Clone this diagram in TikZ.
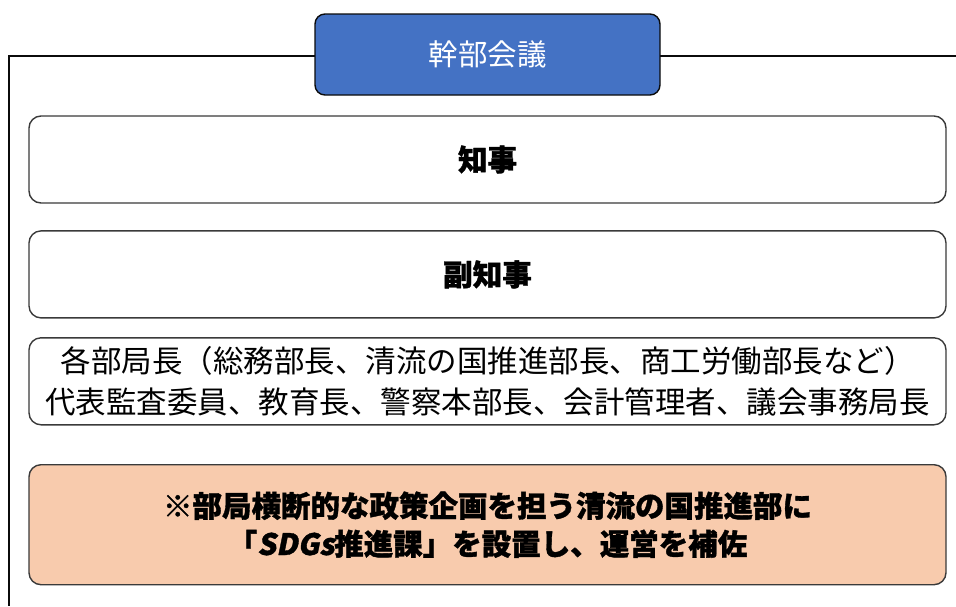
\documentclass[tikz,border=0pt]{standalone}
\usepackage{fontspec}
\usepackage{xcolor}
\usetikzlibrary{positioning}
\newfontfamily\jp{Noto Sans CJK JP}[BoldFeatures={FakeBold=1.2}]
\newfontfamily\jpslant{Noto Sans CJK JP}[FakeSlant=0.2,BoldFeatures={FakeBold=1.2}]
\definecolor{hq}{HTML}{4472C4}
\definecolor{sdg}{HTML}{F8CBAD}
\definecolor{ink}{HTML}{0B0B0B}
\definecolor{ink2}{HTML}{3A3A3A}
\tikzset{
  memb/.style={draw=ink2, line width=1.4pt, fill=#1, rounded corners=12pt, align=center,
    minimum width=917pt, font=\jp\fontsize{30.5}{41}\selectfont, inner sep=0pt},
  memb/.default=white,
  frm/.style={draw=ink, line width=1.6pt},
}
\begin{document}
\begin{tikzpicture}[x=1pt, y=-1pt, node distance=26.5pt]
  \useasboundingbox (0,0) rectangle (956,606);
  % outer frame (runs off to the right and bottom)
  \coordinate (fr) at (956,56);
  \coordinate (fb) at (9,606);
  \draw[frm] (fr) -| (fb);
  \node[draw=ink, line width=1.4pt, fill=hq, rounded corners=10pt, minimum width=345pt, minimum height=81pt,
    text=white, font=\jp\fontsize{29.5}{34}\selectfont] (kanbu) at (487.5,54.5) {幹部会議};
  \node[memb, minimum height=87pt, font=\jp\bfseries\fontsize{29.5}{34}\selectfont] (chiji) at (487.5,159.5) {知事};
  \node[memb, minimum height=87pt, font=\jp\bfseries\fontsize{29.5}{34}\selectfont, below=of chiji] (fuku) {副知事};
  \node[memb, minimum height=87pt, below=18.5pt of fuku] (bucho) {各部局長（総務部長、清流の国推進部長、商工労働部長など）\\代表監査委員、教育長、警察本部長、会計管理者、議会事務局長};
  \node[memb=sdg, minimum height=120pt, font=\jp\bfseries\fontsize{29.5}{38}\selectfont, below=38.5pt of bucho] (sdgs)
    {※部局横断的な政策企画を担う清流の国推進部に\\「{\jpslant\bfseries SDGs}推進課」を設置し、運営を補佐};
\end{tikzpicture}
\end{document}
